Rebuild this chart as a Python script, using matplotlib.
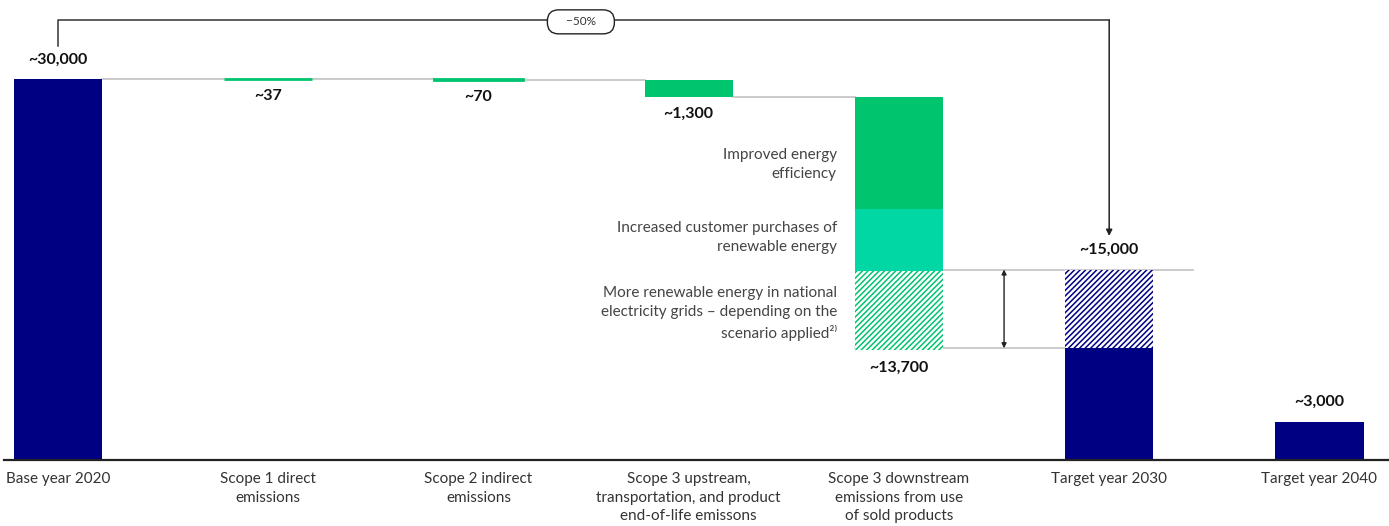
import matplotlib
matplotlib.use("Agg")
import matplotlib.pyplot as plt

# --- Data (tCO2e) ---
categories = [
    "Base year 2020",
    "Scope 1 direct\nemissions",
    "Scope 2 indirect\nemissions",
    "Scope 3 upstream,\ntransportation, and product\nend-of-life emissons",
    "Scope 3 downstream\nemissions from use\nof sold products",
    "Target year 2030",
    "Target year 2040",
]
base_2020 = 30000
scope_reductions = [37, 70, 1300]          # scope 1, scope 2, scope 3 upstream
downstream_parts = [8800, 4900]            # energy efficiency, customer renewables
downstream_labels = [
    "Improved energy\nefficiency",
    "Increased customer purchases of\nrenewable energy",
    "More renewable energy in national\nelectricity grids \u2013 depending on the\nscenario applied\u00b2\u207e",
]
grid_scenario = 6200                       # scenario dependent share (hatched)
target_2030 = 15000
target_2040 = 3000
reduction_pct = "\u221250%"

# --- Style ---
NAVY = "#000082"
GREEN = "#00C46E"
TEAL = "#00D7A5"
CONNECTOR = "#BDBDBD"
TEXT = "#333333"
W = 0.42
PX = 0.72  # points per pixel at dpi 100

plt.rcParams["font.family"] = ["Lato", "DejaVu Sans"]
plt.rcParams["hatch.linewidth"] = 1.1

fig = plt.figure(figsize=(13.89, 5.26), dpi=100)
ax = fig.add_axes([4 / 1389, 66 / 526, 1385 / 1389, 460 / 526])
ax.set_xlim(-0.257, 6.331)
ax.set_ylim(0, base_2020 * 460 / 381)


def value_label(x, y, value, dy_px):
    ax.annotate(f"~{value:,}", (x, y), xytext=(0, dy_px * PX), textcoords="offset points",
                ha="center", va="center", fontsize=11.5, fontweight="bold", color="#111111")


def side_label(y, txt, dy_px=0):
    ax.annotate(txt, (4 - W / 2, y), xytext=(-18 * PX, dy_px * PX), textcoords="offset points",
                ha="right", va="center", fontsize=11, color="#444444", linespacing=1.45)


def connector(x0, x1, y):
    ax.plot([x0, x1], [y, y], color=CONNECTOR, lw=1.1, zorder=1)


# base year
ax.bar(0, base_2020, width=W, color=NAVY, zorder=2)
value_label(0, base_2020, base_2020, 19)

# scope 1, 2 and upstream scope 3 reductions
level = base_2020
for i, r in enumerate(scope_reductions, start=1):
    connector(i - 1 + W / 2, i - W / 2, level)
    ax.bar(i, r, bottom=level - r, width=W, color=GREEN, edgecolor=GREEN,
           linewidth=2.0 if r < 500 else 0, zorder=2)
    level -= r
    value_label(i, level, r, -17)

# downstream scope 3: stacked reduction segments
connector(3 + W / 2, 4 - W / 2, level)
for part, col, txt, dy in zip(downstream_parts, [GREEN, TEAL], downstream_labels, [-12, 2]):
    ax.bar(4, part, bottom=level - part, width=W, color=col, zorder=2)
    side_label(level - part / 2, txt, dy)
    level -= part

ax.bar(4, grid_scenario, bottom=level - grid_scenario, width=W, facecolor="white",
       edgecolor=GREEN, hatch="//////", linewidth=0, zorder=2)
side_label(level - grid_scenario / 2, downstream_labels[2], -3)
value_label(4, level - grid_scenario, sum(downstream_parts), -18)

# target lines between downstream and 2030
connector(4 + W / 2, 5 + W / 2 + 0.19, target_2030)
connector(4 - W / 2, 5 - W / 2, target_2030 - grid_scenario)
ax.annotate("", xy=(4.5, target_2030), xytext=(4.5, target_2030 - grid_scenario),
            arrowprops=dict(arrowstyle="<|-|>", color="#222222", lw=1.0,
                            mutation_scale=7, shrinkA=0, shrinkB=0))

# target 2030: solid part plus scenario dependent hatched part
ax.bar(5, target_2030 - grid_scenario, width=W, color=NAVY, zorder=2)
ax.bar(5, grid_scenario, bottom=target_2030 - grid_scenario, width=W, facecolor="white",
       edgecolor=NAVY, hatch="//////", linewidth=0, zorder=2)
value_label(5, target_2030, target_2030, 20)

# target 2040
ax.bar(6, target_2040, width=W, color=NAVY, zorder=2)
value_label(6, target_2040, target_2040, 20)

# -50% bracket from base year to target 2030
bracket_y = base_2020 + 4650
ax.plot([0, 0, 5, 5], [base_2020 + 2600, bracket_y, bracket_y, bracket_y],
        color="#333333", lw=1.1, zorder=1)
ax.annotate("", xy=(5, target_2030 + 2640), xytext=(5, bracket_y),
            arrowprops=dict(arrowstyle="-|>", color="#222222", lw=1.1,
                            mutation_scale=9, shrinkA=0, shrinkB=0))
ax.text(2.487, bracket_y - 150, "    " + reduction_pct + "    ", ha="center", va="center",
        fontsize=8.5, color=TEXT,
        bbox=dict(boxstyle="round,pad=0.55,rounding_size=0.95", facecolor="white",
                  edgecolor="#222222", linewidth=1.0))

# axes styling
for side in ["top", "right", "left"]:
    ax.spines[side].set_visible(False)
ax.spines["bottom"].set_color("#222222")
ax.spines["bottom"].set_linewidth(1.6)
ax.set_yticks([])
ax.set_xticks(range(len(categories)))
ax.set_xticklabels(categories, fontsize=11, color=TEXT, linespacing=1.4)
ax.tick_params(axis="x", length=0, pad=9)

fig.savefig("out.png", dpi=100)
